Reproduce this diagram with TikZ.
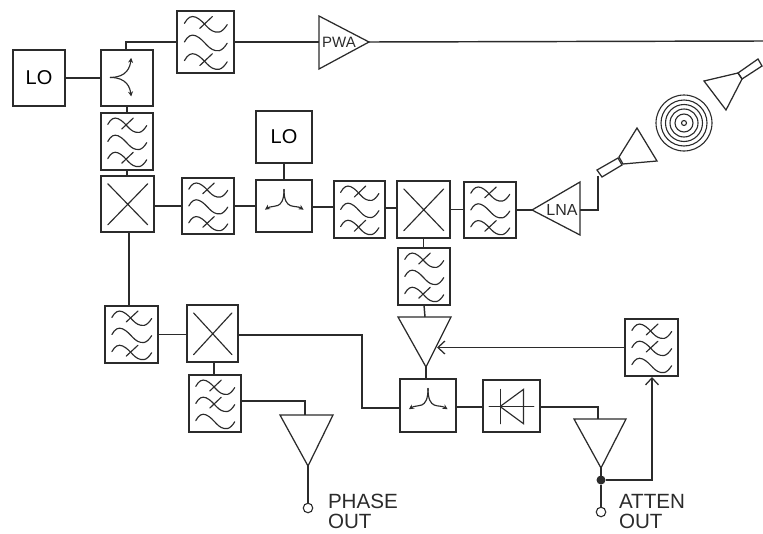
\documentclass[tikz,border=0pt]{standalone}
\usepackage{fontspec}
\setmainfont{Liberation Sans}
\usetikzlibrary{arrows.meta}
\definecolor{ink}{HTML}{2B2B2B}
\tikzset{
  wire/.style={draw=ink,line width=1.45pt,line join=miter},
  glyph/.style={draw=ink,line width=1.15pt,line cap=round},
  blk/.style={draw=ink,line width=1.45pt,inner sep=0pt,outer sep=0pt,rectangle},
  amp/.style={draw=ink,line width=1.25pt,line join=miter},
  lbl/.style={text=ink,inner sep=0pt,outer sep=0pt},
  port/.style={circle,draw=ink,line width=1.1pt,fill=white,minimum size=9.5pt,inner sep=0pt,outer sep=0pt},
  junction/.style={circle,fill=ink,minimum size=9pt,inner sep=0pt,outer sep=0pt},
  barb/.style={-{Straight Barb[length=7pt,width=13pt,line width=1.25pt]}},
  forktip/.style={-{Stealth[length=5pt,width=5pt]}}
}
% box: name,x1,y1,x2,y2,text
\newcommand{\blkbox}[6]{%
  \node[blk,minimum width={(#4-#2)*1pt},minimum height={(#5-#3)*1pt}] (#1) at ({(#2+#4)/2},{(#3+#5)/2}) {\fontsize{20}{22}\selectfont #6};}
\newcommand{\inbox}[5]{%
  \pgfmathsetmacro{\bw}{#3-#1}\pgfmathsetmacro{\bh}{#4-#2}%
  \begin{scope}[shift={(#1,#2)},x=\bw pt,y=-\bh pt]#5\end{scope}}
\newcommand{\wavepath}[1]{%
  \draw[glyph] (.13,#1+.2) .. controls (.19,#1+.1) and (.25,#1+.07) .. (.33,#1+.1) .. controls (.5,#1+.17) and (.55,#1+.36) .. (.74,#1+.34) .. controls (.79,#1+.33) and (.84,#1+.28) .. (.88,#1+.22);}
\newcommand{\crossstroke}[1]{\draw[glyph] (.40,#1+.28) -- (.62,#1+.09);}
% filter with cross on top+bottom (type A)
\newcommand{\filA}[5]{\blkbox{#1}{#2}{#3}{#4}{#5}{}\inbox{#2}{#3}{#4}{#5}{\wavepath{0}\crossstroke{0}\wavepath{.3}\wavepath{.6}\crossstroke{.6}}}
% filter with cross on top+middle (type B)
\newcommand{\filB}[5]{\blkbox{#1}{#2}{#3}{#4}{#5}{}\inbox{#2}{#3}{#4}{#5}{\wavepath{0}\crossstroke{0}\wavepath{.3}\crossstroke{.3}\wavepath{.6}}}
\newcommand{\mixer}[5]{\blkbox{#1}{#2}{#3}{#4}{#5}{}\inbox{#2}{#3}{#4}{#5}{\draw[glyph] (.13,.14)--(.88,.87) (.13,.87)--(.88,.14);}}
\newcommand{\forkdown}[5]{\blkbox{#1}{#2}{#3}{#4}{#5}{}\inbox{#2}{#3}{#4}{#5}{%
  \draw[glyph,forktip] (.5,.18) .. controls (.5,.6) and (.3,.47) .. (.16,.57);
  \draw[glyph,forktip] (.5,.18) .. controls (.5,.6) and (.7,.47) .. (.85,.57);}}
\begin{document}
\begin{tikzpicture}[x=1pt,y=-1pt]
\useasboundingbox (0,0) rectangle (763,533);
% blocks
\blkbox{loa}{13}{50}{65}{106}{LO}
\blkbox{spa}{101}{50}{153}{106}{}
\inbox{101}{50}{153}{106}{%
  \draw[glyph,forktip] (.18,.49) .. controls (.5,.49) and (.56,.3) .. (.58,.14);
  \draw[glyph,forktip] (.18,.49) .. controls (.5,.49) and (.56,.68) .. (.58,.83);}
\filA{fa}{177}{11}{234}{73}
\filA{fb}{101}{113}{153}{170}
\mixer{ma}{101}{176}{154}{232}
\filA{fc}{182}{178}{234}{234}
\blkbox{lob}{256}{111}{312}{163}{LO}
\forkdown{spb}{256}{180}{312}{232}
\filA{fd}{334}{181}{385}{238}
\mixer{mb}{397}{181}{450}{238}
\filA{fe}{464}{182}{516}{238}
\filA{fh}{398}{248}{450}{305}
\filA{ff}{105}{306}{158}{363}
\mixer{mc}{187}{305}{238}{362}
\filB{fg}{189}{375}{241}{432}
\forkdown{spc}{400}{379}{456}{432}
\blkbox{dio}{483}{380}{540}{432}{}
\inbox{483}{380}{540}{432}{%
  \draw[glyph] (.11,.51)--(.89,.51) (.3,.18)--(.3,.84);
  \draw[glyph,line join=miter] (.3,.51)--(.71,.18)--(.71,.84)--cycle;}
\filB{fi}{625}{319}{678}{376}
% amplifiers
\coordinate (pwatip) at (369,42);
\draw[amp] (319,16) -- (pwatip) -- (319,69) -- cycle;
\node[lbl,font=\fontsize{15}{17}\selectfont] (pwa) at (339,42) {PWA};
\coordinate (lnatip) at (532,210);
\coordinate (lnaout) at (580,210);
\draw[amp] (lnatip) -- (580,182) -- (580,235) -- cycle;
\node[lbl,font=\fontsize{16}{18}\selectfont] (lna) at (562,210) {LNA};
\coordinate (ambtop) at (425,317);
\coordinate (ambtip) at (426,367);
\coordinate (ambside) at (437,346);
\draw[amp] (398,317) -- (451,317) -- (ambtip) -- cycle;
\coordinate (amctop) at (305,415);
\coordinate (amctip) at (308,466);
\draw[amp] (280,415) -- (333,415) -- (amctip) -- cycle;
\coordinate (amdtop) at (598,419);
\coordinate (amdtip) at (601,468);
\draw[amp] (574,419) -- (626,419) -- (amdtip) -- cycle;
% ports
\node[port] (pout) at (308,508) {};
\node[port] (aout) at (601,512) {};
\node[junction] (jn) at (601,480) {};
% labels
\node[lbl,font=\fontsize{20.6}{20}\selectfont,align=left,anchor=north west] (plab) at (328,494) {PHASE\\OUT};
\node[lbl,font=\fontsize{20.6}{20}\selectfont,align=left,anchor=north west] (alab) at (619,494) {ATTEN\\OUT};
% horns and rings
\coordinate (hornafeed) at (598,176);
\draw[amp] (597,170) -- (618,158) -- (622,165) -- (602,177) -- cycle;
\draw[amp] (619,157) -- (637,128) -- (657,161) -- (623,164) -- cycle;
\foreach \r in {28,23,18.5,14,9}{\draw[draw=ink,line width=1.1pt] (684,123) circle[radius=\r];}
\draw[draw=ink,line width=1.1pt] (684,123) circle[radius=2.5];
\draw[amp] (704,81) -- (726,110) -- (742,79) -- (738,73) -- cycle;
\draw[amp] (738,73) -- (758,59) -- (762,66) -- (742,79) -- cycle;
\coordinate (rf) at (763,41);
% connectors
\draw[wire] (loa.east) -- (spa.west |- loa.east);
\draw[wire] (spa.north) ++(-1,0) -- ++(0,-8) -- (fa.west |- 0,42);
\draw[wire] (fa.east |- 0,42) -- (319,42);
\draw[wire] (pwatip) -- (rf);
\draw[wire] (spa.south) -- (fb.north);
\draw[wire] (fb.south) -- (ma.north -| fb.south);
\draw[wire] (ma.east |- fc.west) -- (fc.west);
\draw[wire] (fc.east) -- (spb.west |- fc.east);
\draw[wire] (lob.south) -- (spb.north);
\draw[wire] (spb.east |- 0,207) -- (fd.west |- 0,207);
\draw[wire] (fd.east |- 0,208) -- (mb.west |- 0,208);
\draw[wire] (mb.east) -- (fe.west |- mb.east);
\draw[wire] (fe.east |- 0,210) -- (lnatip);
\draw[wire] (lnaout) -- (hornafeed |- lnaout) -- (hornafeed);
\draw[wire] (mb.south) -- (fh.north -| mb.south);
\draw[wire] (fh.south) -- (ambtop);
\draw[wire] (ambtip) -- (spc.north -| ambtip);
\draw[wire] (ma.south -| 129,0) -- (129,306);
\draw[wire] (ff.east) -- (mc.west |- ff.east);
\draw[wire] (mc.east |- 0,335) -- (362,335) -- (362,408) -- (spc.west |- 0,408);
\draw[wire] (214,362) -- (214,375);
\draw[wire] (fg.east |- 0,401) -- (amctop |- 0,401) -- (amctop);
\draw[wire] (amctip) -- (pout.north);
\draw[wire] (spc.east |- 0,407) -- (dio.west |- 0,407);
\draw[wire] (dio.east |- 0,407) -- (amdtop |- 0,407) -- (amdtop);
\draw[wire] (amdtip) -- (jn.north);
\draw[wire] (jn.south) -- (aout.north);
\draw[wire,barb] (jn.east) -- (652,480) -- (652,377);
\draw[wire,barb] (fi.west) -- (ambside |- fi.west);
\end{tikzpicture}
\end{document}
